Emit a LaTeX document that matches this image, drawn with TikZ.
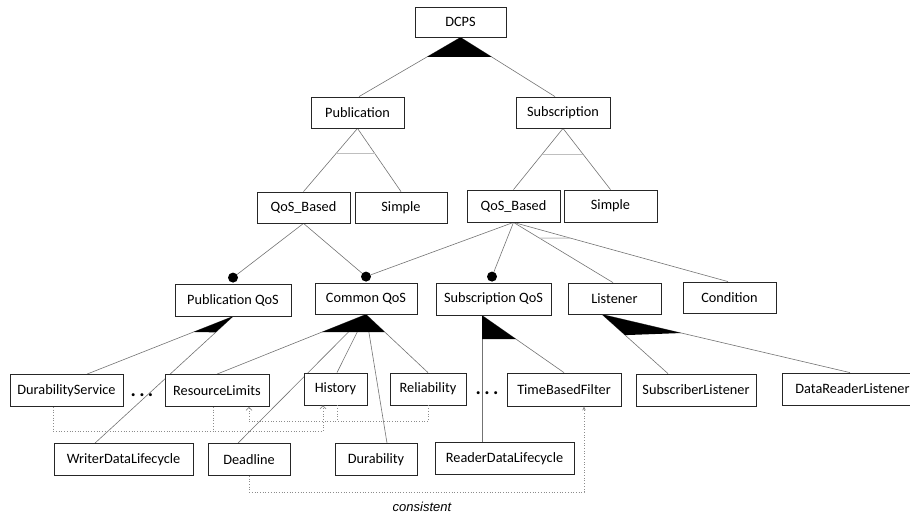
\documentclass[tikz,border=0pt]{standalone}
\usepackage{fontspec}
\setmainfont{Carlito}
\newfontfamily\consfont{Liberation Sans}
\usetikzlibrary{calc,arrows.meta,backgrounds}
\begin{document}
\begin{tikzpicture}[x=1pt,y=-1pt,
  fbox/.style={draw=black!85, line width=0.8pt, fill=white, inner sep=0pt,
    minimum height=31pt, font=\fontsize{14.3}{17}\selectfont},
  conn/.style={draw=black!55, line width=0.6pt},
  dotc/.style={circle, fill=black, inner sep=0pt, minimum size=10pt},
  dep/.style={draw=black!45, dotted, line width=0.7pt},
  arcbase/.style={draw=black!25, line width=1.1pt},
  ellip/.style={font=\fontsize{20}{20}\selectfont\bfseries, inner sep=0pt},
  openarr/.style={-{Straight Barb[length=3pt,width=6pt]}},
  fillarr/.style={-{Stealth[length=4pt,width=3.5pt]}}
]
\useasboundingbox (0,0) rectangle (910,514);
\clip (0,0) rectangle (910,514);

% nodes
\node[fbox,minimum width=91pt,minimum height=30pt] (dcps) at (460.5,22) {DCPS};
\node[fbox,minimum width=93pt] (pub) at (357.5,112.5) {Publication};
\node[fbox,minimum width=94pt] (sub) at (563,112.5) {Subscription};
\node[fbox,minimum width=93pt] (qbl) at (303.5,207.5) {QoS\_Based};
\node[fbox,minimum width=92pt] (siml) at (401,207.5) {Simple};
\node[fbox,minimum width=93pt,minimum height=32pt] (qbr) at (513.5,206) {QoS\_Based};
\node[fbox,minimum width=93pt,minimum height=32pt] (simr) at (610.5,206) {Simple};
\node[fbox,minimum width=116pt,minimum height=32pt] (pqos) at (233,300) {Publication QoS};
\node[fbox,minimum width=102pt] (cqos) at (366,298.5) {Common QoS};
\node[fbox,minimum width=115pt,minimum height=32pt] (sqos) at (493.5,299) {Subscription QoS};
\node[fbox,minimum width=93pt] (lis) at (614.5,298.5) {Listener};
\node[fbox,minimum width=93pt] (cond) at (729.5,297.5) {Condition};
\node[fbox,minimum width=113pt,minimum height=32pt] (ds) at (66.5,390.5) {DurabilityService};
\node[fbox,minimum width=104pt,minimum height=32pt] (rl) at (217,390.5) {ResourceLimits};
\node[fbox,minimum width=63pt,minimum height=32pt] (hist) at (335.5,389) {History};
\node[fbox,minimum width=76pt,minimum height=32pt] (rel) at (428,389) {Reliability};
\node[fbox,minimum width=114pt,minimum height=33pt] (tbf) at (564,389.5) {TimeBasedFilter};
\node[fbox,minimum width=120pt,minimum height=32pt] (sl) at (696,390) {SubscriberListener};
\node[fbox,minimum width=141pt,minimum height=32pt] (drl) at (852.5,389) {DataReaderListener};
\node[fbox,minimum width=139pt,minimum height=32pt] (wdl) at (123.5,459.5) {WriterDataLifecycle};
\node[fbox,minimum width=82pt,minimum height=32pt] (dl) at (249,459.5) {Deadline};
\node[fbox,minimum width=82pt,minimum height=32pt] (dur) at (376,459.5) {Durability};
\node[fbox,minimum width=139pt,minimum height=32pt] (rdl) at (504.5,458.5) {ReaderDataLifecycle};

\node[ellip] (dots1) at (142,395) {.\,.\,.};
\node[ellip] (dots2) at (487,393) {.\,.\,.};
\node[font=\consfont\itshape\fontsize{13}{15}\selectfont, inner sep=0pt] (lbl) at (422,507) {consistent};

% mandatory circles
\node[dotc] (c1) at ([yshift=6pt]pqos.north) {};
\node[dotc] (c2) at ([yshift=6pt]cqos.north) {};
\node[dotc] (c3) at ([yshift=6pt,xshift=-1.5pt]sqos.north) {};

\begin{scope}[on background layer]
% DCPS
\coordinate (pubt) at ([xshift=1.5pt]pub.north);
\coordinate (subt) at ([xshift=-8pt]sub.north);
\draw[conn] (dcps.south) -- (pubt);
\draw[conn] (dcps.south) -- (subt);
\fill (dcps.south) -- ($(dcps.south)!0.33!(pubt)$) -- ($(dcps.south)!0.33!(subt)$) -- cycle;
% Publication
\draw[conn] (pub.south) -- (qbl.north);
\draw[conn] (pub.south) -- (siml.north);
\draw[arcbase] ($(pub.south)!0.4!(qbl.north)$) -- ($(pub.south)!0.4!(siml.north)$);
% Subscription
\draw[conn] (sub.south) -- (qbr.north);
\draw[conn] (sub.south) -- (simr.north);
\draw[arcbase] ($(sub.south)!0.42!(qbr.north)$) -- ($(sub.south)!0.42!(simr.north)$);
% QoS_Based left
\draw[conn] (qbl.south) -- (c1);
\draw[conn] (qbl.south) -- (c2);
% QoS_Based right
\coordinate (list) at ([xshift=-1.5pt]lis.north);
\coordinate (condt) at ([xshift=-1.5pt]cond.north);
\draw[conn] (qbr.south) -- (c2);
\draw[conn] (qbr.south) -- (c3);
\draw[conn] (qbr.south) -- (list);
\draw[conn] (qbr.south) -- (condt);
\draw[arcbase] ($(qbr.south)!0.26!(list)$) -- ($(qbr.south)!0.265!(condt)$);
% Publication QoS
\coordinate (dst) at ([xshift=20.5pt]ds.north);
\coordinate (wdlt) at ([xshift=-28.5pt]wdl.north);
\draw[conn] (pqos.south) -- (dst);
\draw[conn] (pqos.south) -- (wdlt);
\fill (pqos.south) -- ($(pqos.south)!0.27!(dst)$) -- ($(pqos.south)!0.126!(wdlt)$) -- cycle;
% Common QoS
\coordinate (dlt) at ([xshift=-11pt]dl.north);
\coordinate (histt) at ([xshift=1.5pt]hist.north);
\coordinate (durt) at ([xshift=11pt]dur.north);
\draw[conn] (cqos.south) -- (rl.north);
\draw[conn] (cqos.south) -- (dlt);
\draw[conn] (cqos.south) -- (histt);
\draw[conn] (cqos.south) -- (durt);
\draw[conn] (cqos.south) -- (rel.north);
\fill (cqos.south) -- ($(cqos.south)!0.295!(rl.north)$) -- ($(cqos.south)!0.305!(rel.north)$) -- cycle;
% Subscription QoS
\coordinate (sqa) at ([xshift=-11.5pt]sqos.south);
\coordinate (rdlt) at ([xshift=-22.5pt]rdl.north);
\draw[conn] (sqa) -- (rdlt);
\draw[conn] (sqa) -- (tbf.north);
\fill (sqa) -- ($(sqa)!0.1875!(rdlt)$) -- ($(sqa)!0.414!(tbf.north)$) -- cycle;
% Listener
\coordinate (lia) at ([xshift=-12.5pt]lis.south);
\coordinate (slt) at ([xshift=-28pt]sl.north);
\coordinate (drlt) at ([xshift=-2.5pt]drl.north);
\draw[conn] (lia) -- (slt);
\draw[conn] (lia) -- (drlt);
\fill (lia) -- ($(lia)!0.35!(slt)$) -- ($(lia)!0.32!(drlt)$) -- cycle;
\end{scope}

% dependencies
\draw[dep,openarr] ([xshift=-13.5pt]ds.south) -- ++(0,24) -| ([xshift=-12.5pt]hist.south);
\draw[dep] ([xshift=-4pt]rl.south) -- ++(0,24);
\draw[dep,openarr] (rel.south) -- ++(0,16) -| ([xshift=32pt]rl.south);
\draw[dep] ([xshift=1.5pt]hist.south) -- ++(0,16);
\draw[dep,fillarr] (dl.south) -- ++(0,16) -| ([xshift=20pt]tbf.south);
\end{tikzpicture}
\end{document}
